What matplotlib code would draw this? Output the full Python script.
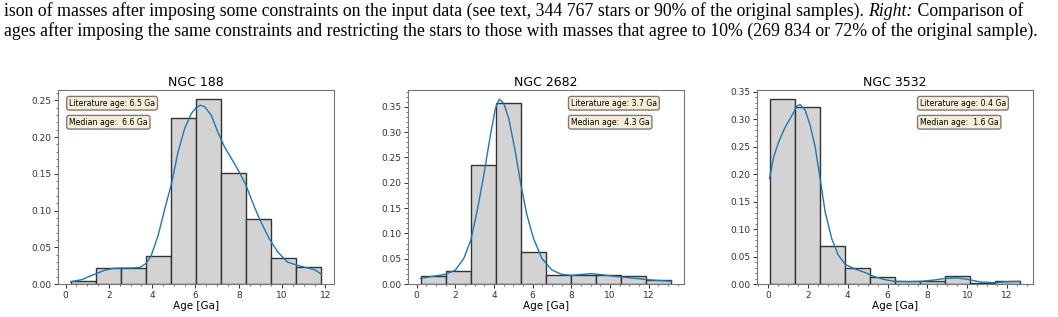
import numpy as np
import matplotlib
matplotlib.use("Agg")
import matplotlib.pyplot as plt

# caption lines (cropped from the paper page)
caption_1a = ("ison of masses after imposing some constraints on the input data (see text, 344 767 stars "
              "or 90% of the original samples). ")
caption_1b = "Right:"
caption_1c = " Comparison of"
caption_2 = ("ages after imposing the same constraints and restricting the stars to those with masses "
             "that agree to 10% (269 834 or 72% of the original sample).")

titles = ["NGC 188", "NGC 2682", "NGC 3532"]
lit_ages = [6.5, 3.7, 0.4]
median_ages = [6.6, 4.3, 1.6]

# histogram bin edges and heights (density)
edges_188 = [0.23, 1.39, 2.55, 3.71, 4.87, 6.03, 7.18, 8.34, 9.50, 10.66, 11.82]
heights_188 = [0.004, 0.0217, 0.0217, 0.038, 0.2255, 0.2514, 0.1517, 0.088, 0.0358, 0.023]

edges_2682 = [0.20, 1.50, 2.80, 4.09, 5.39, 6.69, 7.98, 9.28, 10.57, 11.87, 13.17]
heights_2682 = [0.0165, 0.025, 0.236, 0.3567, 0.0638, 0.0171, 0.0171, 0.0171, 0.0151, 0.0086]

edges_3532 = [0.07, 1.33, 2.59, 3.85, 5.11, 6.37, 7.63, 8.89, 10.15, 11.41, 12.67]
heights_3532 = [0.3366, 0.3227, 0.0698, 0.0297, 0.0127, 0.0049, 0.0049, 0.014, 0.0018, 0.006]

# KDE curves
kde_x_188 = [0.23, 0.76, 1.07, 1.41, 1.83, 2.22, 2.6, 3.06, 3.44, 3.72, 3.95, 4.28, 4.59, 4.88,
             5.2, 5.5, 5.81, 6.02, 6.22, 6.42, 6.73, 7.03, 7.34, 7.8, 8.1, 8.33, 8.72, 9.02,
             9.4, 9.79, 10.24, 10.66, 11.16, 11.54, 11.82]
kde_y_188 = [0.003, 0.006, 0.010, 0.014, 0.019, 0.0213, 0.0217, 0.0217, 0.0226, 0.028, 0.038,
             0.0666, 0.103, 0.135, 0.18, 0.2115, 0.232, 0.2396, 0.2432, 0.2414, 0.2296, 0.207,
             0.1866, 0.164, 0.148, 0.1345, 0.105, 0.0847, 0.062, 0.044, 0.030, 0.0258, 0.022,
             0.019, 0.013]

kde_x_2682 = [0.2, 0.81, 1.49, 2.0, 2.44, 2.8, 3.12, 3.47, 3.81, 4.07, 4.27, 4.5, 4.76, 5.1,
              5.39, 5.7, 6.04, 6.47, 6.99, 7.5, 8.02, 8.53, 9.05, 9.56, 10.08, 10.76, 11.45,
              12.14, 13.17]
kde_y_2682 = [0.011, 0.015, 0.019, 0.0276, 0.0507, 0.0869, 0.143, 0.215, 0.294, 0.347, 0.365,
              0.357, 0.327, 0.261, 0.195, 0.136, 0.090, 0.0507, 0.0276, 0.019, 0.0171, 0.019,
              0.0204, 0.0184, 0.0158, 0.0132, 0.0105, 0.0079, 0.0053]

kde_x_3532 = [0.07, 0.28, 0.53, 0.86, 1.2, 1.45, 1.61, 1.86, 2.11, 2.36, 2.61, 2.86, 3.19, 3.52,
              3.87, 4.36, 4.85, 5.35, 5.85, 6.35, 7.02, 7.68, 8.35, 8.93, 9.51, 10.01, 10.67,
              11.34, 12.0, 12.67]
kde_y_3532 = [0.192, 0.232, 0.259, 0.286, 0.3075, 0.3245, 0.327, 0.3166, 0.289, 0.25, 0.192,
              0.1316, 0.083, 0.0528, 0.0358, 0.0273, 0.0212, 0.0133, 0.0079, 0.0049, 0.0042,
              0.0049, 0.0073, 0.0103, 0.0109, 0.0085, 0.0036, 0.0024, 0.0042, 0.0049]

edges = [edges_188, edges_2682, edges_3532]
heights = [heights_188, heights_2682, heights_3532]
kde_x = [kde_x_188, kde_x_2682, kde_x_3532]
kde_y = [kde_y_188, kde_y_2682, kde_y_3532]
box_x = [0.04, 0.59, 0.59]

W, H = 1058, 317
fig = plt.figure(figsize=(W / 100, H / 100), dpi=100)
renderer = fig.canvas.get_renderer()

cap_fs = 12.8
cap_font = 'Liberation Serif'
y1 = 1 - 16 / H
y2 = 1 - 36 / H
t = fig.text(4 / W, y1, caption_1a, family=cap_font, fontsize=cap_fs, ha='left', va='baseline')
x_next = t.get_window_extent(renderer).x1 / W
t = fig.text(x_next, y1, caption_1b, family=cap_font, fontsize=cap_fs, style='italic',
             ha='left', va='baseline')
x_next = t.get_window_extent(renderer).x1 / W
fig.text(x_next, y1, caption_1c, family=cap_font, fontsize=cap_fs, ha='left', va='baseline')
fig.text(4 / W, y2, caption_2, family=cap_font, fontsize=cap_fs, ha='left', va='baseline')

lefts = [58, 408, 757]
for i in range(3):
    ax = fig.add_axes([lefts[i] / W, (H - 284) / H, 276 / W, 194 / H])
    e = np.array(edges[i])
    ax.bar(e[:-1], heights[i], width=np.diff(e), align='edge', color='#d3d3d3',
           edgecolor='#333333', linewidth=1.0)
    ax.plot(kde_x[i], kde_y[i], color='#1f77b4', lw=1.0)
    ax.set_title(titles[i], fontsize=9, pad=3)
    ax.set_xlabel('Age [Ga]', fontsize=7.5, labelpad=1)
    ax.minorticks_on()
    ax.tick_params(which='both', labelsize=6.5, colors='#333333', pad=2)
    ax.tick_params(which='major', length=3, width=0.7)
    ax.tick_params(which='minor', length=1.5, width=0.5)
    for s in ax.spines.values():
        s.set_color('#777777')
        s.set_linewidth(0.8)
    props = dict(boxstyle='round', facecolor='wheat', alpha=0.5)
    ax.text(box_x[i], 0.955, 'Literature age: %.1f Ga' % lit_ages[i], transform=ax.transAxes,
            fontsize=5.6, va='top', ha='left', bbox=props)
    ax.text(box_x[i], 0.857, 'Median age:  %.1f Ga' % median_ages[i], transform=ax.transAxes,
            fontsize=5.6, va='top', ha='left', bbox=props)

fig.savefig('out.png', dpi=100)
